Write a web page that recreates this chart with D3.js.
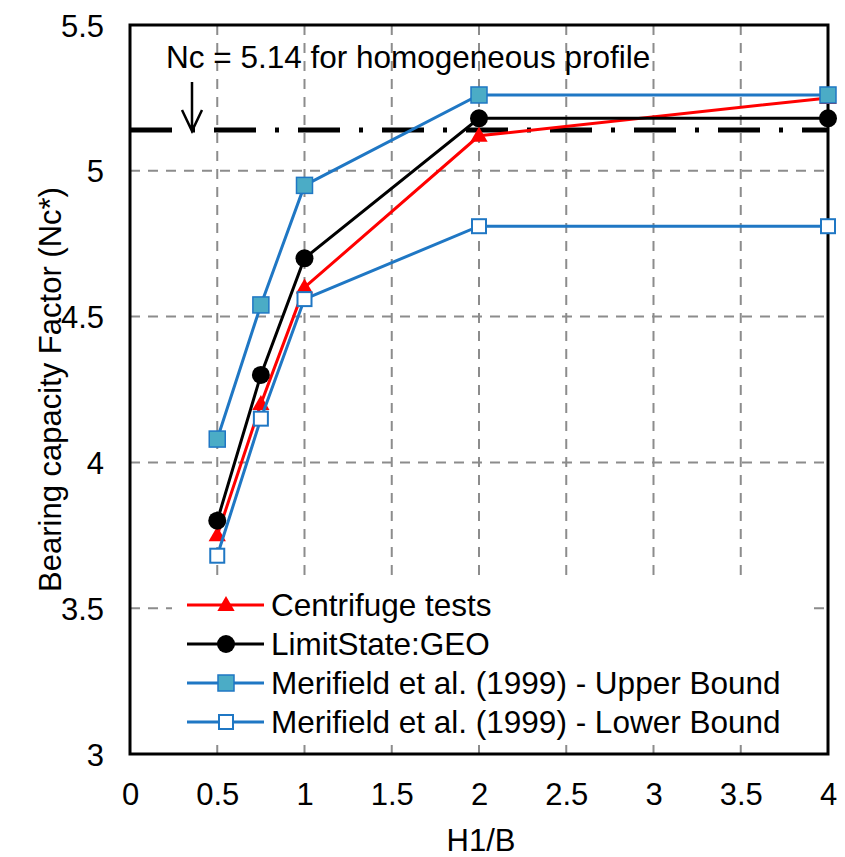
<!DOCTYPE html>
<html>
<head>
<meta charset="utf-8">
<script src="https://cdn.jsdelivr.net/npm/d3@7"></script>
<style>
  html, body { margin: 0; padding: 0; background: #fff; }
  svg { display: block; }
  text { font-family: "Liberation Sans", Arial, sans-serif; fill: #000; }
</style>
</head>
<body>
<svg id="chart" width="845" height="857"></svg>
<script>
// ---- data ----
const xValues = [0.5, 0.75, 1, 2, 4];
const centrifuge = [3.75, 4.2, 4.6, 5.12, 5.25];
const limitState = [3.8, 4.3, 4.7, 5.18, 5.18];
const upperBound = [4.08, 4.54, 4.95, 5.26, 5.26];
const lowerBound = [3.68, 4.15, 4.56, 4.81, 4.81];
const xTicks = [0, 0.5, 1, 1.5, 2, 2.5, 3, 3.5, 4];
const yTicks = [3, 3.5, 4, 4.5, 5, 5.5];
const ncHomogeneous = 5.14;
const seriesNames = ["Centrifuge tests", "LimitState:GEO",
  "Merifield et al. (1999) - Upper Bound", "Merifield et al. (1999) - Lower Bound"];
const annotationText = "Nc = 5.14 for homogeneous profile";

// ---- layout ----
const svg = d3.select("#chart");
const L = 130, R = 828, T = 25, B = 754;
const x = d3.scaleLinear().domain([0, 4]).range([L, R]);
const y = d3.scaleLinear().domain([3, 5.5]).range([B, T]);
const BLUE = "#1f77c4", TEAL = "#4bacc6";
const FS = "31.5px";

// gridlines
const grid = svg.append("g").attr("stroke", "#8c8c8c").attr("stroke-width", 2)
  .attr("stroke-dasharray", "10,8");
grid.selectAll("line.v").data(xTicks.filter(d => d > 0 && d < 4)).join("line")
  .attr("x1", d => x(d)).attr("x2", d => x(d)).attr("y1", T).attr("y2", B);
grid.selectAll("line.h").data(yTicks.filter(d => d > 3 && d < 5.5)).join("line")
  .attr("x1", L).attr("x2", R).attr("y1", d => y(d)).attr("y2", d => y(d));

// axes (labels only)
const xAxis = d3.axisBottom(x).tickValues(xTicks).tickSize(0).tickPadding(0)
  .tickFormat(d3.format("~g"));
const gx = svg.append("g").attr("transform", `translate(0,${B})`).call(xAxis);
gx.select(".domain").remove();
gx.selectAll("text").attr("y", 51).attr("dy", 0)
  .style("font-size", "31px").style("font-family", "Liberation Sans, Arial, sans-serif");

const yAxis = d3.axisLeft(y).tickValues(yTicks).tickSize(0).tickPadding(0)
  .tickFormat(d3.format("~g"));
const gy = svg.append("g").attr("transform", `translate(104,0)`).call(yAxis);
gy.select(".domain").remove();
gy.selectAll("text").attr("x", 0).attr("dy", "0.36em")
  .style("font-size", "31px").style("font-family", "Liberation Sans, Arial, sans-serif");

// axis titles
svg.append("text").attr("x", (L + R) / 2 + 2).attr("y", 851).attr("text-anchor", "middle")
  .style("font-size", "31px").text("H1/B");
svg.append("text").attr("transform", `translate(61,${(T + B) / 2}) rotate(-90)`)
  .attr("text-anchor", "middle").style("font-size", "31px")
  .text("Bearing capacity Factor (Nc*)");

// Nc homogeneous line
svg.append("line").attr("x1", L).attr("x2", R)
  .attr("y1", y(ncHomogeneous)).attr("y2", y(ncHomogeneous))
  .attr("stroke", "#000").attr("stroke-width", 5)
  .attr("stroke-dasharray", "42,19,4,19");

// annotation + arrow
svg.append("text").attr("x", 166).attr("y", 68).style("font-size", FS).text(annotationText);
const ax = 192;
svg.append("path")
  .attr("d", `M${ax},82 L${ax},${y(ncHomogeneous) + 1} M${ax - 10},110 L${ax},${y(ncHomogeneous) + 1} L${ax + 10},110`)
  .attr("fill", "none").attr("stroke", "#000").attr("stroke-width", 2.5);

// series
const line = d3.line().x(d => x(d[0])).y(d => y(d[1]));
const zip = vals => xValues.map((v, i) => [v, vals[i]]);
const tri = d3.symbol().type(d3.symbolTriangle).size(130);

function drawSeries(vals, color, marker) {
  const g = svg.append("g");
  g.append("path").datum(zip(vals)).attr("d", line)
    .attr("fill", "none").attr("stroke", color).attr("stroke-width", 3);
  const pts = g.selectAll("g.pt").data(zip(vals)).join("g")
    .attr("transform", d => `translate(${x(d[0])},${y(d[1])})`);
  marker(pts);
}
function markTri(sel) { sel.append("path").attr("d", tri).attr("transform", "translate(0,1)").attr("fill", "#ff0000"); }
function markCircle(sel) { sel.append("circle").attr("r", 9).attr("fill", "#000"); }
function markUpper(sel) { sel.append("rect").attr("x", -8).attr("y", -8).attr("width", 16).attr("height", 16)
  .attr("fill", TEAL).attr("stroke", BLUE).attr("stroke-width", 1.5); }
function markLower(sel) { sel.append("rect").attr("x", -7).attr("y", -7).attr("width", 14).attr("height", 14)
  .attr("fill", "#fff").attr("stroke", BLUE).attr("stroke-width", 2); }

// frame
svg.append("rect").attr("x", L).attr("y", T).attr("width", R - L).attr("height", B - T)
  .attr("fill", "none").attr("stroke", "#000").attr("stroke-width", 3);

// legend background
svg.append("rect").attr("x", 172).attr("y", 580).attr("width", 640).attr("height", 162).attr("fill", "#fff");

drawSeries(centrifuge, "#ff0000", markTri);
drawSeries(limitState, "#000", markCircle);
drawSeries(upperBound, BLUE, markUpper);
drawSeries(lowerBound, BLUE, markLower);

// legend
const legendY = [605, 644, 683, 722];
const legendStyles = [
  { color: "#ff0000", marker: markTri },
  { color: "#000", marker: markCircle },
  { color: BLUE, marker: markUpper },
  { color: BLUE, marker: markLower }
];
const lg = svg.append("g");
seriesNames.forEach((name, i) => {
  const row = lg.append("g").attr("transform", `translate(0,${legendY[i]})`);
  row.append("line").attr("x1", 187).attr("x2", 264).attr("y1", 0).attr("y2", 0)
    .attr("stroke", legendStyles[i].color).attr("stroke-width", 3);
  const m = row.append("g").attr("transform", "translate(226,0)");
  legendStyles[i].marker(m);
  row.append("text").attr("x", 271).attr("y", 0).attr("dy", "0.36em")
    .style("font-size", FS).text(name);
});
</script>
</body>
</html>
